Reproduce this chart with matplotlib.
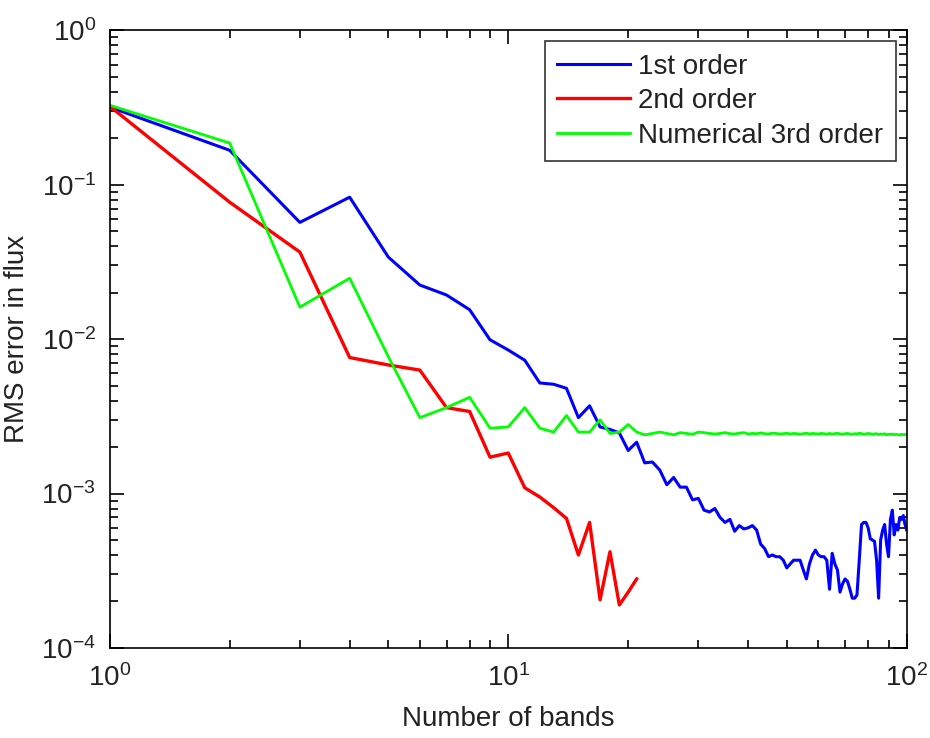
import matplotlib
matplotlib.use("Agg")
import matplotlib.pyplot as plt
from matplotlib.ticker import LogLocator

plt.rcParams["font.family"] = ["Liberation Sans", "DejaVu Sans"]
plt.rcParams["mathtext.default"] = "regular"
plt.rcParams["axes.unicode_minus"] = False

# Number of bands
bands_1st = list(range(1, 101))
bands_2nd = list(range(1, 22))
bands_3rd = list(range(1, 101))

# RMS error, 1st order (n = 1..100)
rms_1st = [
    0.318, 0.167, 0.057, 0.083, 0.034, 0.0224, 0.0193, 0.0155, 0.0099, 0.0085,
    0.0073, 0.0052, 0.0051, 0.0048, 0.0031, 0.0037, 0.0027, 0.0026, 0.00247, 0.0019,
    0.00215, 0.00158, 0.0016, 0.00142, 0.00114, 0.00127, 0.0011, 0.0011, 0.00091, 0.00093,
    0.00078, 0.00076, 0.0008, 0.0007, 0.00065, 0.00068, 0.00057, 0.00062, 0.00059, 0.0006,
    0.00062, 0.00058, 0.00047, 0.00044, 0.00039, 0.0004, 0.00039, 0.00039, 0.00037, 0.00033,
    0.00035, 0.00037, 0.00037, 0.00037, 0.00032, 0.00028, 0.00035, 0.0004, 0.00043, 0.0004,
    0.00039, 0.00039, 0.00037, 0.00024, 0.00041, 0.00035, 0.00032, 0.00023, 0.00026, 0.00028,
    0.00027, 0.00024, 0.00021, 0.00021, 0.00022, 0.00037, 0.00063, 0.00065, 0.00065, 0.0006,
    0.00051, 0.0005, 0.00049, 0.00037, 0.00021, 0.0005, 0.00058, 0.00063, 0.00047, 0.00039,
    0.00068, 0.00078, 0.00054, 0.00063, 0.00058, 0.0007, 0.00068, 0.00072, 0.00063, 0.00058,
]

# RMS error, 2nd order (n = 1..21)
rms_2nd = [
    0.322, 0.077, 0.0366, 0.0076, 0.0068, 0.0063, 0.0036, 0.0034, 0.00172, 0.00183,
    0.00109, 0.00095, 0.00081, 0.00069, 0.0004, 0.00065, 0.000205, 0.00042, 0.00019, 0.00023,
    0.00028,
]

# RMS error, numerical 3rd order (n = 1..100)
rms_3rd = [
    0.327, 0.186, 0.0161, 0.0248, 0.0077, 0.0031, 0.0036, 0.0042, 0.00265, 0.0027,
    0.0036, 0.00265, 0.0025, 0.0032, 0.0025, 0.0025, 0.003, 0.00245, 0.0025, 0.0028,
    0.0025, 0.0024, 0.00245, 0.0025, 0.00245, 0.0024, 0.00248, 0.00245, 0.00242, 0.0025,
    0.00248, 0.00245, 0.00243, 0.00245, 0.00248, 0.00244, 0.00243, 0.00246, 0.00248, 0.00243,
    0.00245, 0.00244, 0.00247, 0.00244, 0.00243, 0.00246, 0.00245, 0.00243, 0.00244, 0.00246,
    0.00243, 0.00245, 0.00244, 0.00242, 0.00244, 0.00246, 0.00243, 0.00245, 0.00244, 0.00243,
    0.00245, 0.00244, 0.00242, 0.00245, 0.00243, 0.00244, 0.00246, 0.00243, 0.00242, 0.00244,
    0.00245, 0.00243, 0.00242, 0.00244, 0.00243, 0.00246, 0.00244, 0.00242, 0.00243, 0.00245,
    0.00244, 0.00242, 0.00243, 0.00244, 0.00241, 0.00243, 0.00242, 0.00244, 0.0024, 0.00242,
    0.00241, 0.00243, 0.0024, 0.00242, 0.00241, 0.00239, 0.00242, 0.0024, 0.00241, 0.0024,
]

fig = plt.figure(figsize=(9.3, 7.38), dpi=100)
ax = fig.add_axes([0.118, 0.122, 0.857, 0.837])

ax.loglog(bands_1st, rms_1st, color="#0000ff", lw=2.2, label="1st order")
ax.loglog(bands_2nd, rms_2nd, color="#ff0000", lw=2.4, label="2nd order")
ax.loglog(bands_3rd, rms_3rd, color="#00ff00", lw=2.0, label="Numerical 3rd order")

ax.set_xlim(1, 100)
ax.set_ylim(1e-4, 1)
ax.xaxis.set_major_locator(LogLocator(base=10, numticks=10))
ax.yaxis.set_major_locator(LogLocator(base=10, numticks=10))

ax.tick_params(which="both", direction="in", top=True, right=True,
               labelsize=20, width=1.2, labelcolor="#222222")
ax.tick_params(axis="x", which="major", pad=12)
ax.tick_params(axis="y", which="major", pad=10)
ax.tick_params(which="major", length=10)
ax.tick_params(which="minor", length=6)
for s in ax.spines.values():
    s.set_linewidth(1.2)

ax.set_xlabel("Number of bands", fontsize=20, labelpad=10, color="#222222")
ax.set_ylabel("RMS error in flux", fontsize=20, labelpad=8, color="#222222")

leg = ax.legend(loc="upper right", fontsize=20, frameon=True, fancybox=False,
                handlelength=2.6, handletextpad=0.3, borderpad=0.45,
                labelspacing=0.3, borderaxespad=0.4)
leg.get_frame().set_edgecolor("black")
leg.get_frame().set_linewidth(1.2)
for t in leg.get_texts():
    t.set_color("#222222")

fig.savefig("out.png", dpi=100)
